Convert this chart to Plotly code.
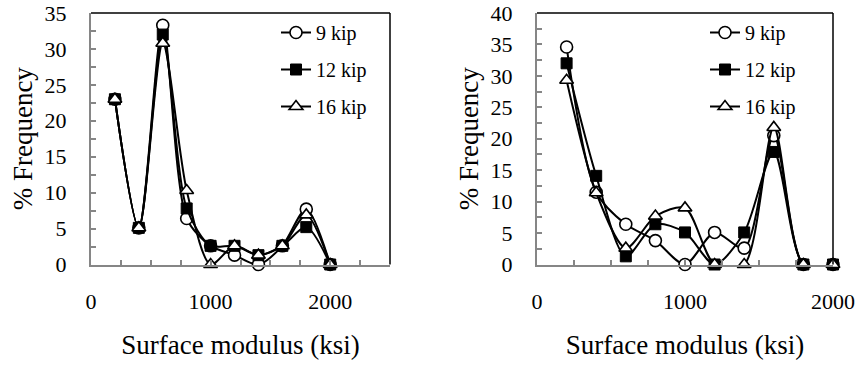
import plotly.graph_objects as go

# ---- data ----
modulus = [200, 400, 600, 800, 1000, 1200, 1400, 1600, 1800, 2000]
series_names = ["9 kip", "12 kip", "16 kip"]

left_9kip = [23.0, 5.1, 33.3, 6.4, 2.6, 1.3, 0.0, 2.6, 7.7, 0.0]
left_12kip = [23.0, 5.1, 32.0, 7.8, 2.6, 2.6, 1.3, 2.6, 5.2, 0.0]
left_16kip = [23.0, 5.1, 30.8, 10.3, 0.0, 2.6, 1.3, 2.6, 6.9, 0.0]

right_9kip = [34.6, 11.5, 6.4, 3.8, 0.0, 5.1, 2.6, 20.5, 0.0, 0.0]
right_12kip = [32.0, 14.1, 1.3, 6.4, 5.1, 0.0, 5.1, 17.9, 0.0, 0.0]
right_16kip = [29.3, 11.4, 2.6, 7.7, 9.0, 0.0, 0.0, 21.8, 0.0, 0.0]

y_title = "% Frequency"
x_title = "Surface modulus (ksi)"

FONT = "Liberation Serif"
GRAY = "#868686"

symbols = [
    dict(symbol="circle", color="white", size=12, line=dict(color="black", width=1.6)),
    dict(symbol="square", color="black", size=11, line=dict(color="black", width=1)),
    dict(symbol="triangle-up", color="white", size=12, line=dict(color="black", width=1.6)),
]

fig = go.Figure()

for data, xa, ya, leg in [
    ([left_9kip, left_12kip, left_16kip], "x", "y", "legend"),
    ([right_9kip, right_12kip, right_16kip], "x2", "y2", "legend2"),
]:
    for i, (vals, name) in enumerate(zip(data, series_names)):
        fig.add_trace(go.Scatter(
            x=modulus, y=vals, name=name, mode="lines+markers",
            line=dict(color="black", width=2, shape="spline", smoothing=0.8),
            marker=symbols[i], xaxis=xa, yaxis=ya, legend=leg,
            legendgroup=f"{leg}{i}", cliponaxis=False,
        ))

tickfont = dict(family=FONT, size=22, color="black", weight="normal")
titlefont = dict(family=FONT, size=27, color="black", weight="normal")

def xaxis(domain, rng, anchor):
    return dict(
        domain=domain, range=rng, anchor=anchor, automargin=False,
        showline=True, linecolor=GRAY, linewidth=2,
        ticks="inside", ticklen=5, tickcolor=GRAY, tickwidth=1.5,
        tickvals=[0, 1000, 2000], showgrid=False, zeroline=False,
        minor=dict(dtick=250, tick0=0, ticks="inside", ticklen=5, tickcolor=GRAY, tickwidth=1.5),
        tickfont=tickfont, ticklabelstandoff=16,
        title=dict(text=x_title, font=titlefont, standoff=22),
        fixedrange=True,
    )

def yaxis(domain, rng, anchor):
    return dict(
        domain=domain, range=rng, anchor=anchor, automargin=False,
        showline=True, linecolor=GRAY, linewidth=2,
        ticks="inside", ticklen=5, tickcolor=GRAY, tickwidth=1.5,
        dtick=5, tick0=0, showgrid=False, zeroline=False,
        minor=dict(dtick=2.5, tick0=0, ticks="inside", ticklen=5, tickcolor=GRAY, tickwidth=1.5),
        tickfont=tickfont, ticklabelstandoff=18,
        title=dict(text=y_title, font=titlefont, standoff=4),
        fixedrange=True,
    )

ydom = [1 - 264.5 / 369, 1 - 13 / 369]
legfont = dict(family=FONT, size=20, color="black")
fig.update_layout(
    width=858, height=369,
    margin=dict(l=0, r=0, t=0, b=0),
    paper_bgcolor="white", plot_bgcolor="white",
    font=dict(family=FONT, color="black"),
    xaxis=xaxis([91 / 858, 390 / 858], [0, 2500], "y"),
    yaxis=yaxis(ydom, [0, 35], "x"),
    xaxis2=xaxis([537 / 858, 833 / 858], [0, 2000], "y2"),
    yaxis2=yaxis(ydom, [0, 40], "x2"),
    legend=dict(x=276 / 858, y=1 - 13 / 369, xanchor="left", yanchor="top",
                font=legfont, bgcolor="rgba(0,0,0,0)", tracegroupgap=8, itemwidth=30),
    legend2=dict(x=705 / 858, y=1 - 13 / 369, xanchor="left", yanchor="top",
                 font=legfont, bgcolor="rgba(0,0,0,0)", tracegroupgap=8, itemwidth=30),
    showlegend=True,
)

# black top and right borders of each plot area
for xr, yr in [("x domain", "y domain"), ("x2 domain", "y2 domain")]:
    fig.add_shape(type="line", xref=xr, yref=yr, x0=0, x1=1, y0=1, y1=1,
                  line=dict(color="black", width=1.5))
    fig.add_shape(type="line", xref=xr, yref=yr, x0=1, x1=1, y0=0, y1=1,
                  line=dict(color="black", width=1.5))

fig.write_html("out.html")
